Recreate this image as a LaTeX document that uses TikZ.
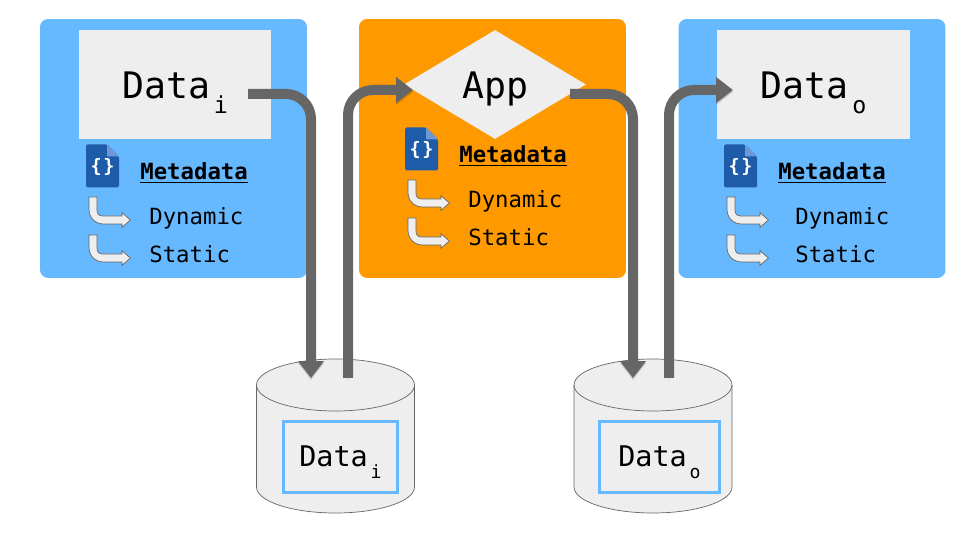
\documentclass[tikz,border=0pt]{standalone}
\usepackage{fontspec}
\setmainfont{DejaVu Sans Mono}
\usetikzlibrary{arrows.meta,shapes.geometric}
\definecolor{panelblue}{HTML}{66B8FF}
\definecolor{panelorange}{HTML}{FF9900}
\definecolor{boxgray}{HTML}{EEEEEE}
\definecolor{flowgray}{HTML}{666666}
\definecolor{docblue}{HTML}{1E5BA8}
\definecolor{docfold}{HTML}{6E97D8}
\newcommand{\idx}[1]{\raisebox{-.4em}{\kern.1em\scalebox{.64}{#1}}}
\tikzset{
  panel/.style={rounded corners=0.16cm,inner sep=0,minimum width=5.34cm,minimum height=5.18cm},
  bigbox/.style={fill=boxgray,inner sep=0,minimum width=3.85cm,minimum height=2.18cm,text height=0.62cm,text depth=0.04cm,font=\fontsize{20.8}{24}\selectfont},
  dbbox/.style={draw=panelblue,line width=0.06cm,fill=boxgray,inner sep=0,minimum height=1.44cm,text height=0.42cm,text depth=0.02cm,font=\fontsize{16.2}{20}\selectfont},
  meta/.style={inner sep=0,anchor=base west,font=\fontsize{12.7}{15}\selectfont\bfseries},
  item/.style={inner sep=0,anchor=base west,font=\fontsize{12.7}{15}\selectfont},
  flow/.style={draw=flowgray,line width=0.2cm,rounded corners=0.5cm,
    preaction={draw=black,opacity=0.16,transform canvas={yshift=-0.04cm}}},
  flowtip/.style={-{Triangle[width=0.5cm,length=0.34cm]}},
  docicon/.pic={
    \fill[docblue,rounded corners=0.03cm] (0,0)--(21,0)--(33,12)--(33,43)--(0,43)--cycle;
    \fill[docfold] (21,0)--(33,12)--(21,12)--cycle;
    \node[white,inner sep=0,font=\fontsize{10.5}{12}\selectfont\bfseries] (braces) at (16.5,22) {\{\kern1pt\}};
  },
  bentarrow/.pic={
    \draw[flowgray,fill=boxgray,line width=0.4pt] (0,0)--(8,0)--(8,13) .. controls (8,17) and (10,19) .. (14,19)--(33,19)--(33,15.7)--(41.4,23)--(33,30.3)--(33,27)--(15,27) .. controls (6,27) and (0,21) .. (0,12)--cycle;
  },
  drum/.pic={
    \draw[flowgray,fill=boxgray,line width=0.4pt] (-79,0) arc[start angle=180,end angle=360,x radius=79,y radius=26]--(79,102) arc[start angle=0,end angle=180,x radius=79,y radius=26]--cycle;
    \draw[flowgray,line width=0.4pt] (-79,0) arc[start angle=180,end angle=0,x radius=79,y radius=26];
  }
}
\begin{document}
\begin{tikzpicture}[x={(0.02cm,0)},y={(0,-0.02cm)}]
\useasboundingbox (0,0) rectangle (960,540);
% three panels
\node[panel,fill=panelblue] (inpanel) at (173.5,148.5) {};
\node[panel,fill=panelorange] (apppanel) at (492.5,148.5) {};
\node[panel,fill=panelblue] (outpanel) at (812,148.5) {};
% main shapes
\node[bigbox] (datain) at (175,84.5) {Data\idx{i}};
\node[diamond,fill=boxgray,inner sep=0,aspect=1.67,minimum width=3.64cm,minimum height=2.18cm,text height=0.62cm,text depth=0.04cm,font=\fontsize{20.8}{24}\selectfont] (app) at (495,84.5) {App};
\node[bigbox] (dataout) at (813.5,84.5) {Data\idx{o}};
% metadata of the input
\pic (iconin) at (86,144.5) {docicon};
\node[meta] (metain) at (140,179.5) {\underline{Metadata}};
\pic (dynin) at (89,197) {bentarrow};
\node[item] (dynamicin) at (149,225) {Dynamic};
\pic (statin) at (89,235) {bentarrow};
\node[item] (staticin) at (149,263) {Static};
% metadata of the app
\pic (iconapp) at (405,127.5) {docicon};
\node[meta] (metaapp) at (459,162.5) {\underline{Metadata}};
\pic (dynapp) at (408,180) {bentarrow};
\node[item] (dynamicapp) at (468,208) {Dynamic};
\pic (statapp) at (408,218) {bentarrow};
\node[item] (staticapp) at (468,246) {Static};
% metadata of the output
\pic (iconout) at (724,144.5) {docicon};
\node[meta] (metaout) at (778,179.5) {\underline{Metadata}};
\pic (dynout) at (727,197) {bentarrow};
\node[item] (dynamicout) at (795,225) {Dynamic};
\pic (statout) at (727,235) {bentarrow};
\node[item] (staticout) at (795,263) {Static};
% storage
\pic (dbin) at (335.5,385) {drum};
\pic (dbout) at (653,385) {drum};
\node[dbbox,minimum width=2.3cm] (storedin) at (340.5,457) {Data\idx{i}};
\node[dbbox,minimum width=2.42cm] (storedout) at (659.5,457) {Data\idx{o}};
% ends of the connectors
\coordinate (infrom) at (248,94);
\coordinate (dbinto) at (311,378);
\coordinate (dbinfrom) at (348,378);
\coordinate (appto) at (413,90);
\coordinate (appfrom) at (570,94);
\coordinate (dboutto) at (633,378);
\coordinate (dboutfrom) at (669,378);
\coordinate (outto) at (733,90);
\draw[flow,flowtip] (infrom) -| (dbinto);
\draw[flow,flowtip] (dbinfrom) |- (appto);
\draw[flow,flowtip] (appfrom) -| (dboutto);
\draw[flow,flowtip] (dboutfrom) |- (outto);
\end{tikzpicture}
\end{document}
